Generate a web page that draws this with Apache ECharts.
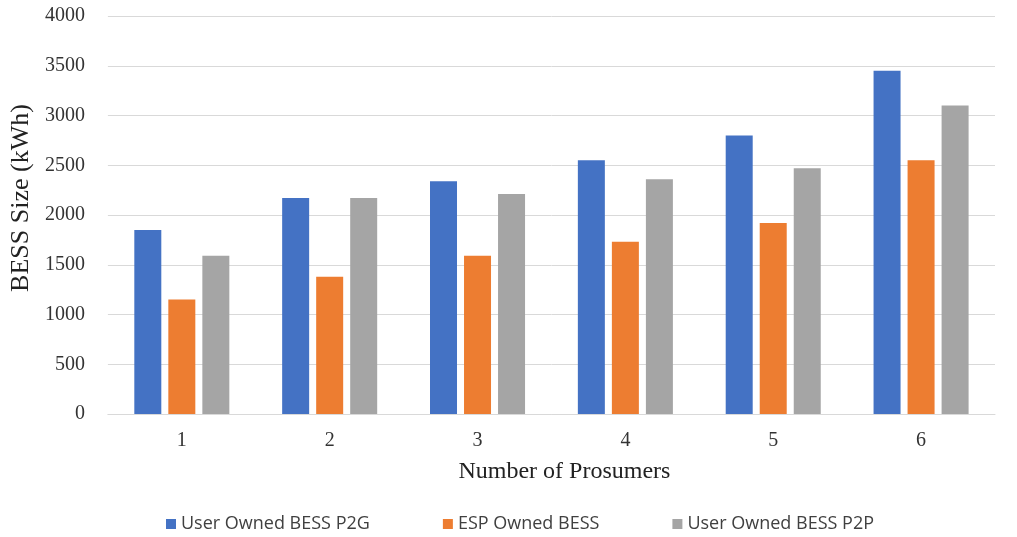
<!DOCTYPE html>
<html><head><meta charset="utf-8">
<script src="https://cdn.jsdelivr.net/npm/echarts@6/dist/echarts.min.js"></script>
<style>html,body{margin:0;padding:0;background:#fff}#c{width:1017px;height:537px}</style>
</head><body><div id="c"></div>
<script>
const categories = ['1','2','3','4','5','6'];
const seriesNames = ['User Owned BESS P2G','ESP Owned BESS','User Owned BESS P2P'];
const p2gValues = [1850, 2170, 2340, 2550, 2800, 3450];
const espValues = [1150, 1380, 1590, 1730, 1920, 2550];
const p2pValues = [1590, 2170, 2210, 2360, 2470, 3100];
const colors = ['#4472C4','#ED7D31','#A5A5A5'];

const chart = echarts.init(document.getElementById('c'));
const data = [p2gValues, espValues, p2pValues];
chart.setOption({
  animation: false,
  color: colors,
  grid: {left: 106, right: 22, top: 16, bottom: 123},
  legend: {
    top: 510, left: 161, itemWidth: 10, itemHeight: 10, itemGap: 73,
    icon: 'rect',
    textStyle: {fontFamily: 'Open Sans', fontSize: 18, color: '#404040'},
    data: seriesNames
  },
  xAxis: {
    type: 'category', data: categories,
    name: 'Number of Prosumers', nameLocation: 'middle', nameGap: 46,
    nameTextStyle: {fontFamily: 'Liberation Serif', fontSize: 24, color: '#222', padding: [0, 0, 0, 26]},
    axisLine: {lineStyle: {color: '#d9d9d9'}},
    axisTick: {show: false},
    axisLabel: {fontFamily: 'Liberation Serif', fontSize: 20, color: '#333', margin: 17}
  },
  yAxis: {
    type: 'value', min: 0, max: 4000, interval: 500,
    name: 'BESS Size (kWh)', nameLocation: 'middle', nameGap: 66,
    nameTextStyle: {fontFamily: 'Liberation Serif', fontSize: 26, color: '#222', padding: [0, 0, 0, 34]},
    axisLine: {show: false}, axisTick: {show: false},
    axisLabel: {fontFamily: 'Liberation Serif', fontSize: 20, color: '#333', margin: 23,
      formatter: v => String(v)},
    splitLine: {lineStyle: {color: '#d9d9d9'}}
  },
  series: seriesNames.map((n, i) => ({
    name: n, type: 'bar', data: data[i],
    barWidth: 27, barGap: '26%',
    itemStyle: {color: colors[i]}
  }))
});
</script></body></html>
